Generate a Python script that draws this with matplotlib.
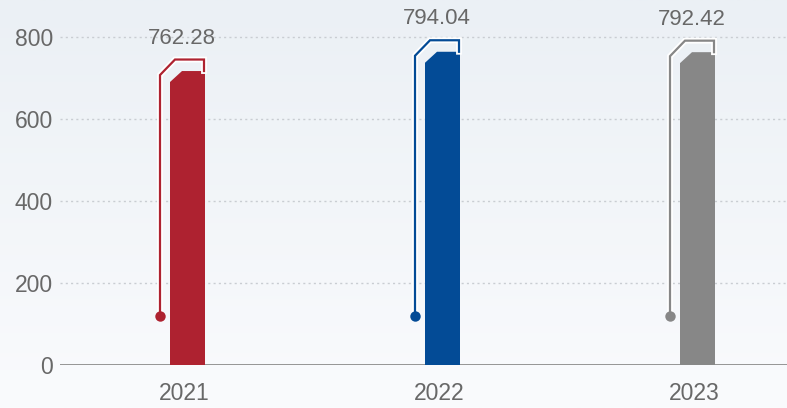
import numpy as np
import matplotlib
matplotlib.use("Agg")
import matplotlib.pyplot as plt
from matplotlib.path import Path
from matplotlib.patches import PathPatch

# ---- data ----
categories = ["2021", "2022", "2023"]
value_labels = [762.28, 794.04, 792.42]      # printed values
bar_heights = [717, 764, 763]                # drawn heights of the filled bars
dot_level = 120                              # level of the marker dots
yticks = [0, 200, 400, 600, 800]
colors = ["#ae2230", "#034b96", "#878787"]

plt.rcParams['font.family'] = ['Liberation Sans', 'DejaVu Sans']

W, H = 787, 408
fig = plt.figure(figsize=(W / 100, H / 100), dpi=100)

# background gradient
bg = fig.add_axes([0, 0, 1, 1], zorder=-10)
top = np.array([235, 240, 245]) / 255
bot = np.array([250, 251, 253]) / 255
t = np.linspace(0, 1, 256)[:, None]
grad = top[None, :] * (1 - t) + bot[None, :] * t
bg.imshow(grad[:, None, :], aspect='auto', extent=[0, 1, 0, 1])
bg.axis('off')

ax_left, ax_bottom = 60, 43
ax_w, ax_h = W - ax_left, H - ax_bottom
ax = fig.add_axes([ax_left / W, ax_bottom / H, ax_w / W, ax_h / H])
ax.patch.set_alpha(0)

spacing = 255.0
c0 = 124.0
xlim = (-c0 / spacing, (ax_w - c0) / spacing)
ylim = (0, 365 / 0.41)
ax.set_xlim(*xlim)
ax.set_ylim(*ylim)
px = (xlim[1] - xlim[0]) / ax_w
py = (ylim[1] - ylim[0]) / ax_h

for s in ax.spines.values():
    s.set_visible(False)
ax.axhline(0, color="#959595", lw=1.4, zorder=3)
for v in yticks[1:]:
    ax.axhline(v, color="#c9cdd2", lw=1.0, linestyle=(0, (1.5, 2.3)), zorder=1)

ax.set_yticks(yticks)
ax.set_yticklabels([str(v) for v in yticks])
ax.set_xticks(range(len(categories)))
ax.set_xticklabels(categories)
ax.tick_params(axis='y', length=0, pad=5, labelsize=16.5, labelcolor="#686868")
ax.tick_params(axis='x', length=0, pad=12.5, labelsize=16.5, labelcolor="#686868")

for i, (lab, h, col) in enumerate(zip(value_labels, bar_heights, colors)):
    c = i
    # filled bar with chamfered top-left corner
    xl, xr = c - 14 * px, c + 21 * px
    verts = [(xl, 0), (xl, h - 11 * py), (c - 2 * px, h), (xr, h), (xr, 0), (xl, 0)]
    ax.add_patch(PathPatch(Path(verts, closed=True), facecolor=col, edgecolor='none', zorder=4))
    # outline path
    yo = h + 11.5 * py
    ox = c - 24 * px
    path_x = [ox, ox, c - 9 * px, xr - 1 * px, xr - 1 * px]
    path_y = [dot_level, yo - 15.5 * py, yo, yo, h]
    ax.plot(path_x, path_y, color='white', lw=4.2, solid_joinstyle='miter', zorder=5)
    ax.plot(path_x, path_y, color=col, lw=1.6, solid_joinstyle='miter', zorder=6)
    ax.plot([ox], [dot_level], 'o', color=col, ms=7.5, mec='none', zorder=7)
    ax.text(c - 2 * px, yo + 16 * py, f"{lab:.2f}", ha='center', va='baseline',
            fontsize=16, color="#686868", zorder=8)

fig.savefig("out.png", dpi=100)
